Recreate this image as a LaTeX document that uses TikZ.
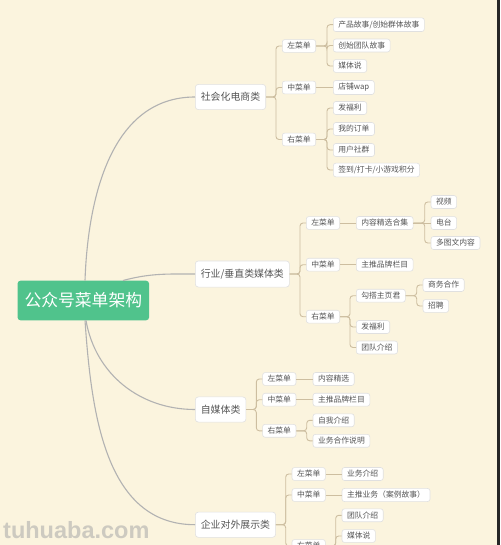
\documentclass[tikz,border=0pt]{standalone}
\usepackage{fontspec}
\usepackage{tikz}
\usetikzlibrary{positioning}
\newfontfamily\cjk{Noto Sans CJK SC}
\newfontfamily\marksans{Liberation Sans}
\definecolor{bgcream}{RGB}{251,244,222}
\definecolor{rootgreen}{RGB}{80,195,140}
\definecolor{boxline}{RGB}{224,224,224}
\definecolor{boxtext}{RGB}{85,85,85}
\definecolor{twigtan}{RGB}{205,190,160}
\definecolor{stemgray}{RGB}{178,178,178}
\definecolor{markgray}{RGB}{205,202,192}

\begin{document}
\begin{tikzpicture}[x=1pt,y=-1pt,
    rootbox/.style={fill=rootgreen, rounded corners=3pt, text=white,
        font=\cjk\fontsize{16.8}{17}\selectfont, inner xsep=7pt, inner ysep=12pt},
    catbox/.style={anchor=west, draw=boxline, fill=white, line width=0.6pt,
        rounded corners=3pt, text=boxtext,
        font=\cjk\fontsize{9.9}{10}\selectfont, inner xsep=5.5pt, inner ysep=8pt},
    leafbox/.style={anchor=west, draw=boxline, fill=white, line width=0.6pt,
        rounded corners=2.5pt, text=boxtext,
        font=\cjk\fontsize{7.8}{8}\selectfont, inner xsep=5pt, inner ysep=2.85pt},
    stem/.style={stemgray, line width=1.1pt},
    twig/.style={twigtan, line width=0.9pt, rounded corners=3pt},
    watermark/.style={text=markgray, font=\marksans\bfseries\fontsize{23.5}{24}\selectfont,
        inner sep=0pt}]
    \useasboundingbox (0,0) rectangle (500,545);
    \clip (0,0) rectangle (500,545);
    \fill[bgcream] (0,0) rectangle (500,545);

    % root
    \node[rootbox] (root) at (83.3,300.5) {公众号菜单架构};

    % categories
    \node[catbox] (shop) at (195,97) {社会化电商类};
    \node[catbox] (media) at (195,274) {行业/垂直类媒体类};
    \node[catbox] (self) at (195,409.5) {自媒体类};
    \node[catbox] (corp) at (195,524.7) {企业对外展示类};

    % 社会化电商类
    \node[leafbox] (shopL) at (282,46) {左菜单};
    \node[leafbox] (shopM) at (282,87.5) {中菜单};
    \node[leafbox] (shopR) at (282,139.5) {右菜单};
    \node[leafbox] (shopL1) at (333,24.7) {产品故事/创始群体故事};
    \node[leafbox] (shopL2) at (333,45.5) {创始团队故事};
    \node[leafbox] (shopL3) at (333,66) {媒体说};
    \node[leafbox] (shopM1) at (333,87.5) {店铺wap};
    \node[leafbox] (shopR1) at (333,108) {发福利};
    \node[leafbox] (shopR2) at (333,129) {我的订单};
    \node[leafbox] (shopR3) at (333,150) {用户社群};
    \node[leafbox] (shopR4) at (333,170) {签到/打卡/小游戏积分};

    % 行业/垂直类媒体类
    \node[leafbox] (mediaL) at (306,223) {左菜单};
    \node[leafbox] (mediaM) at (306,264.7) {中菜单};
    \node[leafbox] (mediaR) at (306,316.7) {右菜单};
    \node[leafbox] (mediaL1) at (356,223) {内容精选合集};
    \node[leafbox] (mediaM1) at (356,264.7) {主推品牌栏目};
    \node[leafbox] (mediaR1) at (356,295.7) {勾搭主页君};
    \node[leafbox] (mediaR2) at (356,327) {发福利};
    \node[leafbox] (mediaR3) at (356,347.5) {团队介绍};
    \node[leafbox] (video) at (430.7,202) {视频};
    \node[leafbox] (radio) at (430.7,223) {电台};
    \node[leafbox] (article) at (430.7,243) {多图文内容};
    \node[leafbox] (deal) at (422.7,285) {商务合作};
    \node[leafbox] (hire) at (422.7,306) {招聘};

    % 自媒体类
    \node[leafbox] (selfL) at (262.3,379) {左菜单};
    \node[leafbox] (selfM) at (262.3,399.7) {中菜单};
    \node[leafbox] (selfR) at (262.3,430.8) {右菜单};
    \node[leafbox] (selfL1) at (312.7,379) {内容精选};
    \node[leafbox] (selfM1) at (312.7,399.7) {主推品牌栏目};
    \node[leafbox] (selfR1) at (312.7,420.3) {自我介绍};
    \node[leafbox] (selfR2) at (312.7,440.8) {业务合作说明};

    % 企业对外展示类
    \node[leafbox] (corpL) at (291.7,474) {左菜单};
    \node[leafbox] (corpM) at (291.7,495) {中菜单};
    \node[leafbox] (corpR) at (291.7,546) {右菜单};
    \node[leafbox] (corpL1) at (341.7,474) {业务介绍};
    \node[leafbox] (corpM1) at (341.7,495) {主推业务（案例故事）};
    \node[leafbox] (corpR1) at (341.7,515.3) {团队介绍};
    \node[leafbox] (corpR2) at (341.7,536) {媒体说};

    % stems from the root
    \coordinate (rootN) at ([xshift=1.7pt]root.north);
    \coordinate (rootNE) at ([xshift=39.7pt]root.north);
    \draw[stem] (rootN) to[out=88,in=180] (shop.west);
    \draw[stem] (rootNE) to[out=15,in=180] (media.west);
    \draw[stem] ([xshift=2.7pt]root.south) to[out=-80,in=180] (self.west);
    \draw[stem] ([xshift=1.7pt]root.south) to[out=-86,in=180] (corp.west);

    % twigs with a bend
    \foreach \p/\c in {shop/shopL, shop/shopM, shop/shopR,
        shopL/shopL1, shopL/shopL2, shopL/shopL3,
        shopR/shopR1, shopR/shopR2, shopR/shopR3, shopR/shopR4,
        media/mediaL, media/mediaM, media/mediaR,
        mediaR/mediaR1, mediaR/mediaR2, mediaR/mediaR3,
        mediaL1/video, mediaL1/article,
        mediaR1/deal, mediaR1/hire,
        self/selfL, self/selfM, self/selfR,
        selfR/selfR1, selfR/selfR2,
        corp/corpL, corp/corpM, corp/corpR,
        corpR/corpR1, corpR/corpR2}
        \draw[twig] (\p.east) -| ([xshift=-6pt]\c.west) -- (\c.west);
    % straight twigs
    \foreach \p/\c in {shopM/shopM1, mediaL/mediaL1, mediaM/mediaM1,
        mediaL1/radio, selfL/selfL1, selfM/selfM1, corpL/corpL1, corpM/corpM1}
        \draw[twig] (\p.east) -- (\c.west);

    % edge strip and watermark
    \fill[black!85] (497,0) rectangle (500,545);
    \node[watermark, anchor=base west] (mark) at (3,538.5) {tuhuaba.com};
\end{tikzpicture}
\end{document}
